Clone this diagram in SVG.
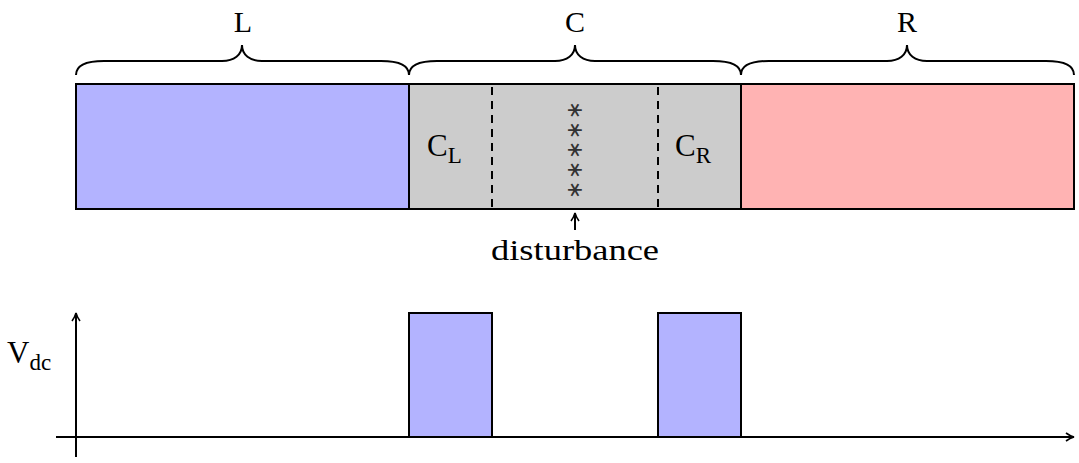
<svg xmlns="http://www.w3.org/2000/svg" width="1079" height="463" viewBox="0 0 1079 463">
<style>
.t{font-family:"Liberation Serif","DejaVu Serif",serif;fill:#000}
.ln{stroke:#000;stroke-width:2;fill:none}
.box{stroke:#000;stroke-width:2}
.dash{stroke:#000;stroke-width:2;stroke-dasharray:8,6;stroke-dashoffset:-3}
</style>
<defs>
<marker id="ah" viewBox="0 0 10 10" refX="9" refY="5" markerWidth="10" markerHeight="10" markerUnits="userSpaceOnUse" orient="auto">
<path d="M1,1 Q5,4 9,5 Q5,6 1,9" fill="none" stroke="#000" stroke-width="1.6"/>
</marker>
</defs>
<rect width="1079" height="463" fill="#fff"/>
<g id="braces">
<path class="ln" d="M76,75 C76,65 86,61 104,61 L222,61 C234,61 242,55 242,45 C242,55 250,61 262,61 L381,61 C399,61 409,65 409,75"/>
<path class="ln" d="M409,75 C409,65 419,61 437,61 L555,61 C567,61 575,55 575,45 C575,55 583,61 595,61 L713,61 C731,61 741,65 741,75"/>
<path class="ln" d="M741,75 C741,65 751,61 769,61 L887,61 C899,61 907,55 907,45 C907,55 915,61 927,61 L1046,61 C1064,61 1074,65 1074,75"/>
<text class="t" x="243" y="32" font-size="30" text-anchor="middle">L</text>
<text class="t" x="575" y="32" font-size="30" text-anchor="middle">C</text>
<text class="t" x="907" y="32" font-size="30" text-anchor="middle">R</text>
</g>
<g id="region-L"><rect class="box" x="76" y="84" width="333" height="125" fill="#b3b3ff"/></g>
<g id="region-C">
<rect class="box" x="409" y="84" width="332" height="125" fill="#cccccc"/>
<line class="dash" x1="492" y1="84" x2="492" y2="209"/>
<line class="dash" x1="658" y1="84" x2="658" y2="209"/>
<text class="t" x="427" y="156" font-size="31">C<tspan font-size="23" dy="7">L</tspan></text>
<text class="t" x="675" y="156" font-size="31">C<tspan font-size="23" dy="7">R</tspan></text>
<text x="575" y="101" font-family="DejaVu Sans, sans-serif" font-size="22" fill="#333" writing-mode="vertical-rl" text-orientation="upright" letter-spacing="1.5">∗∗∗∗∗</text>
</g>
<g id="region-R"><rect class="box" x="741" y="84" width="333" height="125" fill="#ffb3b3"/></g>
<g id="disturbance">
<text class="t" x="575" y="260" font-size="30" text-anchor="middle" textLength="168" lengthAdjust="spacingAndGlyphs">disturbance</text>
</g>
<g id="pulse1"><rect class="box" x="409" y="313" width="83" height="124" fill="#b3b3ff"/></g>
<g id="pulse2"><rect class="box" x="658" y="313" width="83" height="124" fill="#b3b3ff"/></g>
<g id="ylabel"><text class="t" x="7" y="363" font-size="31">V<tspan font-size="23" dy="7">dc</tspan></text></g>
<g id="connectors">
<line class="ln" x1="575" y1="230" x2="575" y2="213" marker-end="url(#ah)"/>
<line class="ln" x1="76" y1="457" x2="76" y2="313" marker-end="url(#ah)"/>
<line class="ln" x1="56" y1="437" x2="1074" y2="437" marker-end="url(#ah)"/>
</g>
</svg>
